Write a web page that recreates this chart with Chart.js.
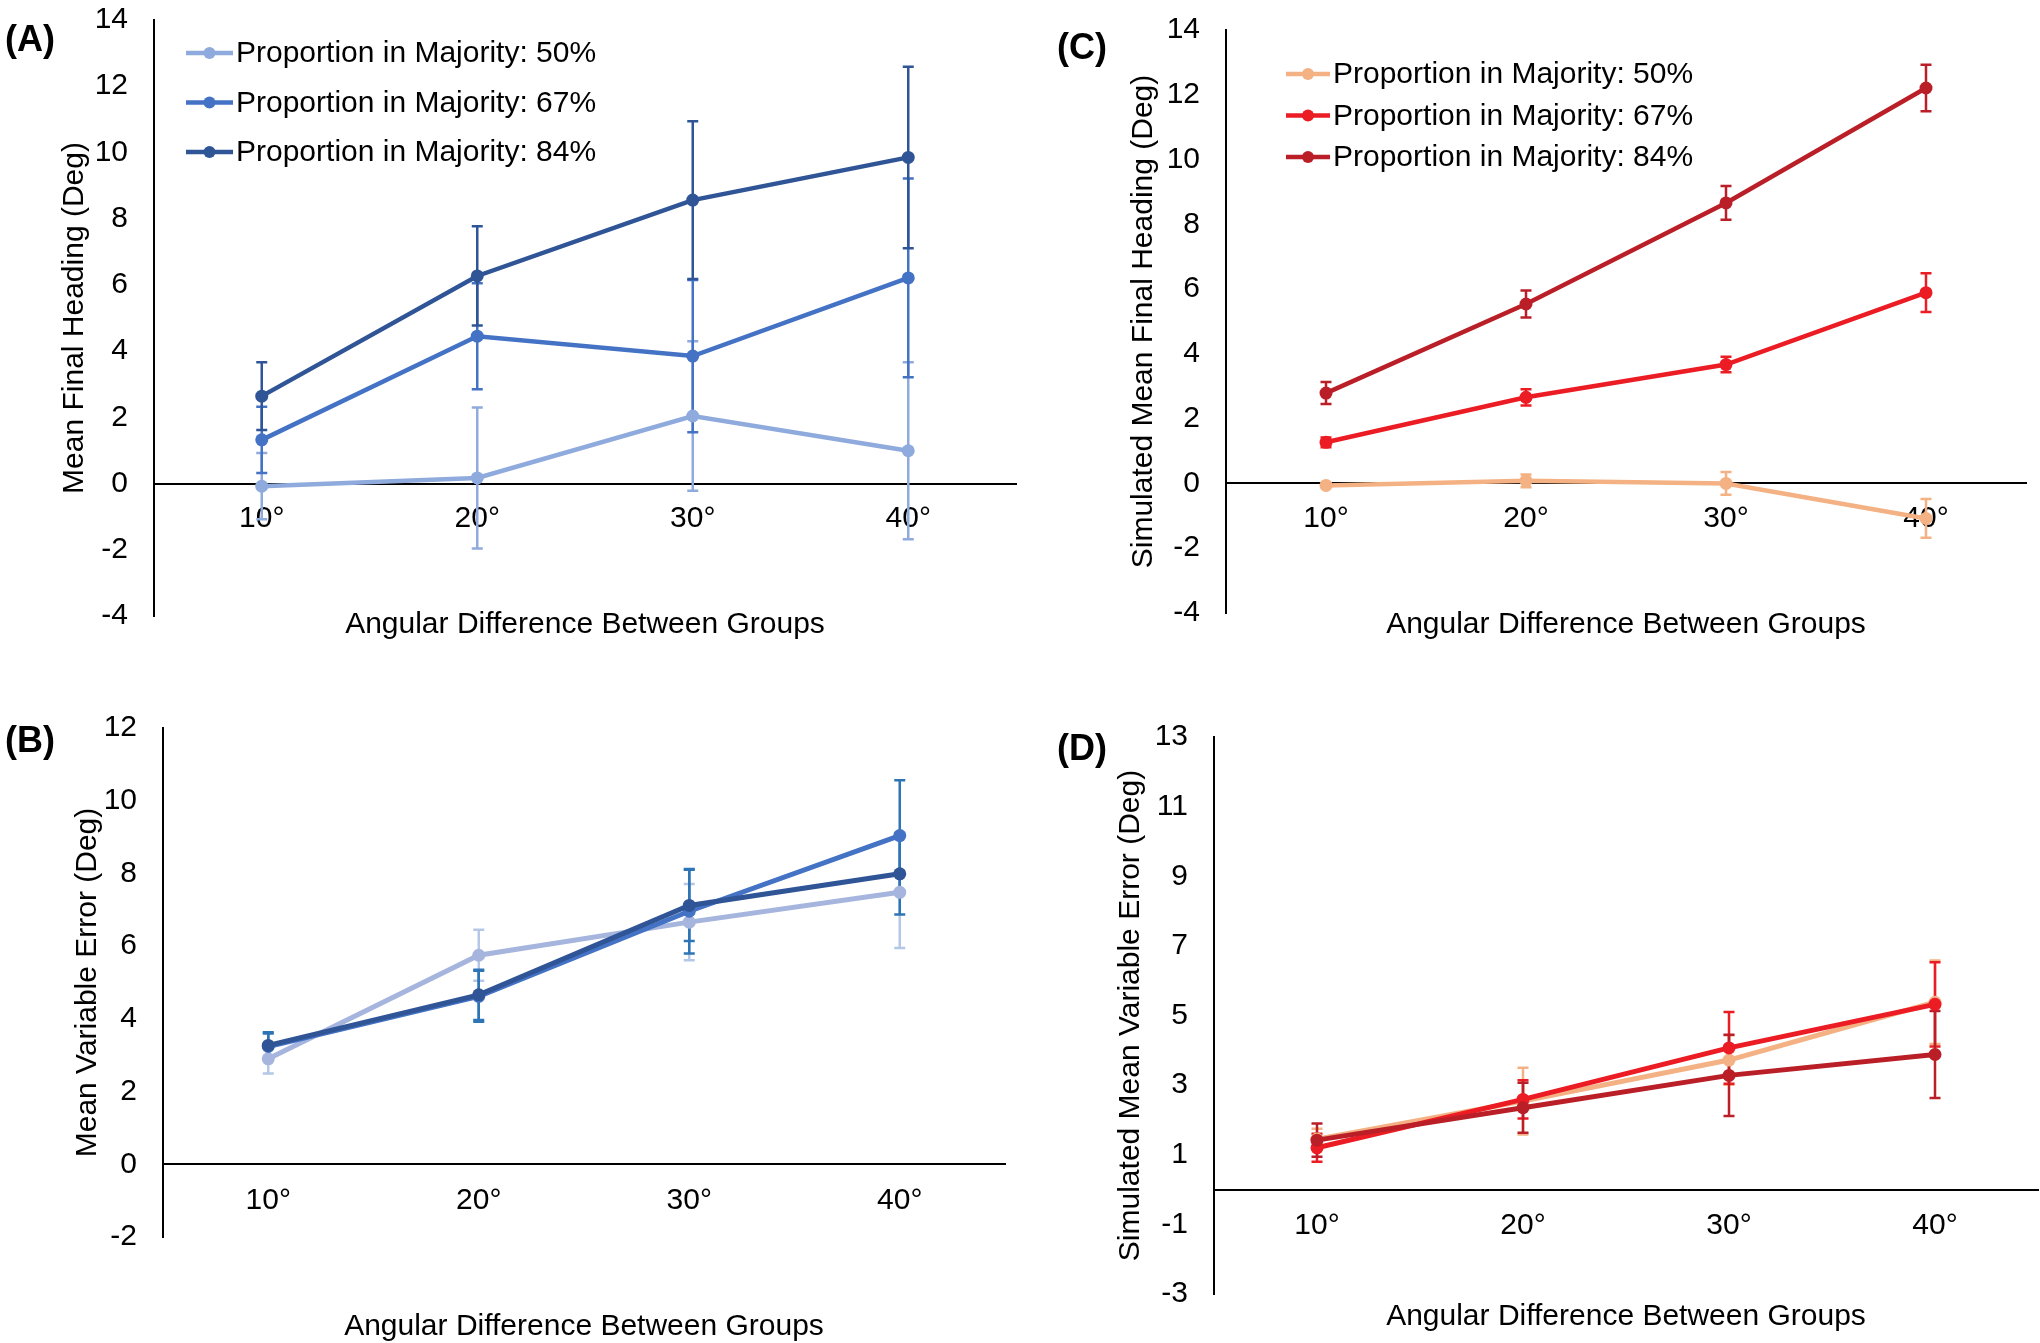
<!DOCTYPE html>
<html>
<head>
<meta charset="utf-8">
<script src="https://cdn.jsdelivr.net/npm/chart.js@4.4.1/dist/chart.umd.min.js"></script>
<style>
  html, body { margin: 0; padding: 0; background: #fff; }
  body { width: 2040px; height: 1343px; position: relative; overflow: hidden; }
  canvas { position: absolute; }
</style>
</head>
<body>
<canvas id="chartA" width="1020" height="680" style="left:0;top:0"></canvas>
<canvas id="chartC" width="1020" height="680" style="left:1020px;top:0"></canvas>
<canvas id="chartB" width="1020" height="663" style="left:0;top:680px"></canvas>
<canvas id="chartD" width="1020" height="663" style="left:1020px;top:680px"></canvas>
<script>
// categories and series labels
const angles = ['10°', '20°', '30°', '40°'];
const seriesNames = ['Proportion in Majority: 50%', 'Proportion in Majority: 67%', 'Proportion in Majority: 84%'];

// (A) mean final heading, participants
const a50 = [-0.08, 0.17, 2.04, 0.99];
const a50Err = [1.0, 2.13, 2.26, 2.67];
const a67 = [1.32, 4.45, 3.85, 6.21];
const a67Err = [1.0, 1.6, 2.3, 3.0];
const a84 = [2.64, 6.27, 8.56, 9.85];
const a84Err = [1.02, 1.5, 2.38, 2.74];

// (B) mean variable error, participants
const b50 = [2.90, 5.75, 6.66, 7.48];
const b50Err = [0.4, 0.7, 1.05, 1.53];
const b67 = [3.24, 4.62, 6.96, 9.04];
const b67Err = [0.36, 0.7, 1.16, 1.52];
const b84 = [3.27, 4.66, 7.12, 7.99];
const b84Err = [0.36, 0.69, 0.98, 1.12];

// (C) simulated mean final heading
const c50 = [-0.06, 0.08, 0.0, -1.08];
const c50Err = [0.05, 0.2, 0.35, 0.6];
const c67 = [1.27, 2.66, 3.67, 5.89];
const c67Err = [0.15, 0.25, 0.24, 0.6];
const c84 = [2.79, 5.54, 8.66, 12.21];
const c84Err = [0.34, 0.42, 0.52, 0.72];

// (D) simulated mean variable error
const d50 = [1.45, 2.54, 3.72, 5.38];
const d50Err = [0.3, 0.96, 0.71, 1.2];
const d67 = [1.20, 2.59, 4.07, 5.32];
const d67Err = [0.4, 0.55, 1.03, 1.21];
const d84 = [1.42, 2.35, 3.28, 3.88];
const d84Err = [0.48, 0.72, 1.17, 1.25];

const xTitle = 'Angular Difference Between Groups';

Chart.defaults.font.family = '"Liberation Sans", Arial, Helvetica, sans-serif';
Chart.defaults.font.size = 30;
Chart.defaults.color = '#000';

// vertical error bars with caps, placed through the chart's own scales
const errorBars = {
  id: 'errorBars',
  beforeDatasetsDraw(chart, args, opts) {
    const ctx = chart.ctx;
    const yScale = chart.scales.y;
    chart.data.datasets.forEach((ds, i) => {
      const meta = chart.getDatasetMeta(i);
      ctx.save();
      ctx.strokeStyle = ds.errColor || ds.borderColor;
      ctx.lineWidth = opts.width;
      meta.data.forEach((pt, j) => {
        const hi = yScale.getPixelForValue(ds.data[j] + ds.err[j]);
        const lo = yScale.getPixelForValue(ds.data[j] - ds.err[j]);
        ctx.beginPath();
        ctx.moveTo(pt.x, hi); ctx.lineTo(pt.x, lo);
        ctx.moveTo(pt.x - opts.cap, hi); ctx.lineTo(pt.x + opts.cap, hi);
        ctx.moveTo(pt.x - opts.cap, lo); ctx.lineTo(pt.x + opts.cap, lo);
        ctx.stroke();
      });
      ctx.restore();
    });
  }
};

// panel letter and the line+marker legend inside the plot
const panelDecor = {
  id: 'panelDecor',
  afterDraw(chart, args, opts) {
    const ctx = chart.ctx;
    ctx.save();
    ctx.fillStyle = '#000';
    ctx.font = 'bold 36px "Liberation Sans", Arial, sans-serif';
    ctx.textAlign = 'center';
    ctx.textBaseline = 'middle';
    ctx.fillText(opts.label, opts.labelX, opts.labelY);
    const lg = opts.legend;
    if (lg) {
      ctx.font = '30px "Liberation Sans", Arial, sans-serif';
      ctx.textAlign = 'left';
      chart.data.datasets.forEach((ds, i) => {
        const y = lg.y0 + i * lg.rowH;
        ctx.strokeStyle = ds.borderColor;
        ctx.lineWidth = ds.borderWidth;
        ctx.beginPath();
        ctx.moveTo(lg.x0, y); ctx.lineTo(lg.x1, y);
        ctx.stroke();
        ctx.fillStyle = ds.borderColor;
        ctx.beginPath();
        ctx.arc((lg.x0 + lg.x1) / 2, y, 6, 0, Math.PI * 2);
        ctx.fill();
        ctx.fillStyle = '#000';
        ctx.fillText(ds.label, lg.textX, y + 1);
      });
    }
    ctx.restore();
  }
};

function series (label, data, err, color, errColor, width, order) {
  return {
    label: label,
    data: data,
    err: err,
    errColor: errColor,
    borderColor: color,
    backgroundColor: color,
    pointBackgroundColor: color,
    pointBorderWidth: 0,
    pointRadius: 6.5,
    borderWidth: width,
    tension: 0,
    order: order
  };
}

function makePanel (id, cfg) {
  new Chart(document.getElementById(id), {
    type: 'line',
    data: { labels: angles, datasets: cfg.datasets },
    options: {
      responsive: false,
      animation: false,
      events: [],
      devicePixelRatio: 1,
      layout: { autoPadding: false, padding: cfg.padding },
      scales: {
        x: {
          type: 'category',
          offset: true,
          position: { y: 0 },
          grid: { display: false, drawTicks: false },
          border: { display: true, color: '#000', width: 2 },
          ticks: { padding: cfg.xTickPad, maxRotation: 0, autoSkip: false },
          title: { display: true, text: xTitle, padding: { top: 0, bottom: cfg.xTitlePad } },
          afterFit: s => { s.height = 0; s.paddingLeft = 0; s.paddingRight = 0; }
        },
        y: {
          min: cfg.yMin,
          max: cfg.yMax,
          ticks: { stepSize: 2, padding: 26 },
          grid: { display: false, drawTicks: false },
          border: { display: true, color: '#000', width: 2 },
          title: { display: true, text: cfg.yTitle, padding: { top: cfg.yTitlePad, bottom: 0 } },
          afterFit: s => { s.width = cfg.yWidth; s.paddingTop = 0; s.paddingBottom = 0; }
        }
      },
      plugins: {
        legend: { display: false },
        tooltip: { enabled: false },
        errorBars: { width: 2.5, cap: 5.5 },
        panelDecor: cfg.decor
      }
    },
    plugins: [errorBars, panelDecor]
  });
}

makePanel('chartA', {
  datasets: [
    series(seriesNames[0], a50, a50Err, '#8FAADC', '#8FAADC', 4.5, 2),
    series(seriesNames[1], a67, a67Err, '#4472C4', '#4472C4', 4.5, 1),
    series(seriesNames[2], a84, a84Err, '#2F5597', '#2F5597', 4.5, 0)
  ],
  padding: { left: 0, top: 20, right: 4, bottom: 64 },
  yMin: -4, yMax: 14, yWidth: 154, yTitlePad: 57,
  yTitle: 'Mean Final Heading (Deg)',
  xTickPad: 17, xTitlePad: -159,
  decor: { label: '(A)', labelX: 30, labelY: 41, legend: { x0: 186, x1: 233, textX: 236, y0: 53, rowH: 49.5 } }
});

makePanel('chartC', {
  datasets: [
    series(seriesNames[0], c50, c50Err, '#F4B183', '#F4B183', 4.5, 2),
    series(seriesNames[1], c67, c67Err, '#EC1C24', '#EC1C24', 4.5, 1),
    series(seriesNames[2], c84, c84Err, '#BA1F28', '#BA1F28', 4.5, 0)
  ],
  padding: { left: 0, top: 30, right: 14, bottom: 67 },
  yMin: -4, yMax: 14, yWidth: 206, yTitlePad: 106,
  yTitle: 'Simulated Mean Final Heading (Deg)',
  xTickPad: 17, xTitlePad: -159,
  decor: { label: '(C)', labelX: 62, labelY: 49, legend: { x0: 266, x1: 310, textX: 313, y0: 74, rowH: 41.5 } }
});

makePanel('chartB', {
  datasets: [
    series(seriesNames[0], b50, b50Err, '#A6B5DE', '#B4C7E7', 5, 2),
    series(seriesNames[1], b67, b67Err, '#4472C4', '#2E75B6', 5, 1),
    series(seriesNames[2], b84, b84Err, '#2F5597', '#2E75B6', 5, 0)
  ],
  padding: { left: 0, top: 48, right: 15, bottom: 106 },
  yMin: -2, yMax: 12, yWidth: 163, yTitlePad: 70,
  yTitle: 'Mean Variable Error (Deg)',
  xTickPad: 18, xTitlePad: -180,
  decor: { label: '(B)', labelX: 30, labelY: 62 }
});

makePanel('chartD', {
  datasets: [
    series(seriesNames[0], d50, d50Err, '#F4B183', '#F4B183', 5, 2),
    series(seriesNames[1], d67, d67Err, '#EC1C24', '#EC1C24', 5, 1),
    series(seriesNames[2], d84, d84Err, '#BA1F28', '#BA1F28', 5, 0)
  ],
  padding: { left: 0, top: 57, right: 2, bottom: 49 },
  yMin: -3, yMax: 13, yWidth: 194, yTitlePad: 93,
  yTitle: 'Simulated Mean Variable Error (Deg)',
  xTickPad: 18, xTitlePad: -145,
  decor: { label: '(D)', labelX: 62, labelY: 70 }
});
</script>
</body>
</html>
